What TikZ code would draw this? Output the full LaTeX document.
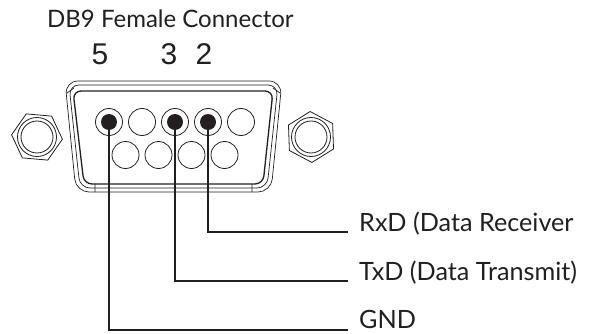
\documentclass[tikz,border=0pt]{standalone}
\usepackage{fontspec}
\setmainfont{Lato}
\newfontfamily\digitfont{Liberation Sans}
\usetikzlibrary{shapes.geometric}
\definecolor{ink}{HTML}{231F20}
\begin{document}
\begin{tikzpicture}[x=1pt,y=-1pt,
  shellthin/.style={draw=ink, line width=0.7pt},
  shellthick/.style={draw=ink, line width=1.3pt},
  pinhole/.style={circle, draw=ink, line width=0.8pt, minimum size=27pt, inner sep=0pt},
  pindot/.style={circle, fill=ink, minimum size=16pt, inner sep=0pt},
  nut/.style={regular polygon, regular polygon sides=6, draw=ink, line width=0.8pt, minimum size=51pt, inner sep=0pt},
  nutring/.style={circle, draw=ink, line width=0.8pt, inner sep=0pt},
  wire/.style={draw=ink, line width=2.6pt},
  lab/.style={anchor=base west, inner sep=0pt, text=ink, font=\fontsize{25.2}{26}\selectfont},
  pinnum/.style={anchor=base, inner sep=0pt, text=ink, font=\digitfont\fontsize{30}{30}\selectfont}]
\useasboundingbox (0,0) rectangle (596,334);
% title and pin numbers
\node[anchor=base west, inner sep=0pt, text=ink, font=\fontsize{24}{24}\selectfont] (title) at (47,28) {DB9 Female Connector};
\node[pinnum] (n5) at (100,65) {5};
\node[pinnum] (n3) at (169,65) {3};
\node[pinnum] (n2) at (204,65) {2};
% mounting nuts
\node[nut, rotate=-5] (nutL) at (37,137) {};
\node[nutring, minimum size=39pt] (nutLa) at (37,137) {};
\node[nutring, minimum size=32pt] (nutLb) at (37,137) {};
\node[nut, rotate=32] (nutR) at (311,137) {};
\node[nutring, minimum size=39pt] (nutRa) at (311,137) {};
\node[nutring, minimum size=32pt] (nutRb) at (311,137) {};
% connector shell
\draw[shellthin, rounded corners=13pt] (173,81) -- (282,81) -- (271,192) -- (76,192) -- (65,81) -- cycle;
\draw[shellthin, rounded corners=10pt] (173,85) -- (278,85) -- (267,188) -- (80,188) -- (69,85) -- cycle;
\draw[shellthick, rounded corners=8pt] (173,91) -- (273,91) -- (263,184) -- (84,184) -- (73,91) -- cycle;
\draw[shellthin] (95,184) -- (95,192) (252,184) -- (252,192)
  (67,93) -- (74,88) (280,93) -- (273,88);
% pins, top row
\node[pinhole] (p1) at (109,122) {};
\node[pinhole] (p2) at (142,122) {};
\node[pinhole] (p3) at (175,122) {};
\node[pinhole] (p4) at (208,122) {};
\node[pinhole] (p5) at (241,122) {};
% pins, bottom row
\node[pinhole] (p6) at (125.5,155) {};
\node[pinhole] (p7) at (158.5,155) {};
\node[pinhole] (p8) at (191.5,155) {};
\node[pinhole] (p9) at (224.5,155) {};
% used pins
\node[pindot] (d5) at (p1) {};
\node[pindot] (d3) at (p3) {};
\node[pindot] (d2) at (p4) {};
% wire ends and labels
\coordinate (eR) at (348,232);
\coordinate (eT) at (348,281);
\coordinate (eG) at (348,330);
\node[lab] (lR) at (359,231) {RxD (Data Receiver};
\node[lab] (lT) at (359,280) {TxD (Data Transmit)};
\node[lab] (lG) at (359,328) {GND};
\draw[wire] (d2.center) |- (eR);
\draw[wire] (d3.center) |- (eT);
\draw[wire] (d5.center) |- (eG);
\end{tikzpicture}
\end{document}
